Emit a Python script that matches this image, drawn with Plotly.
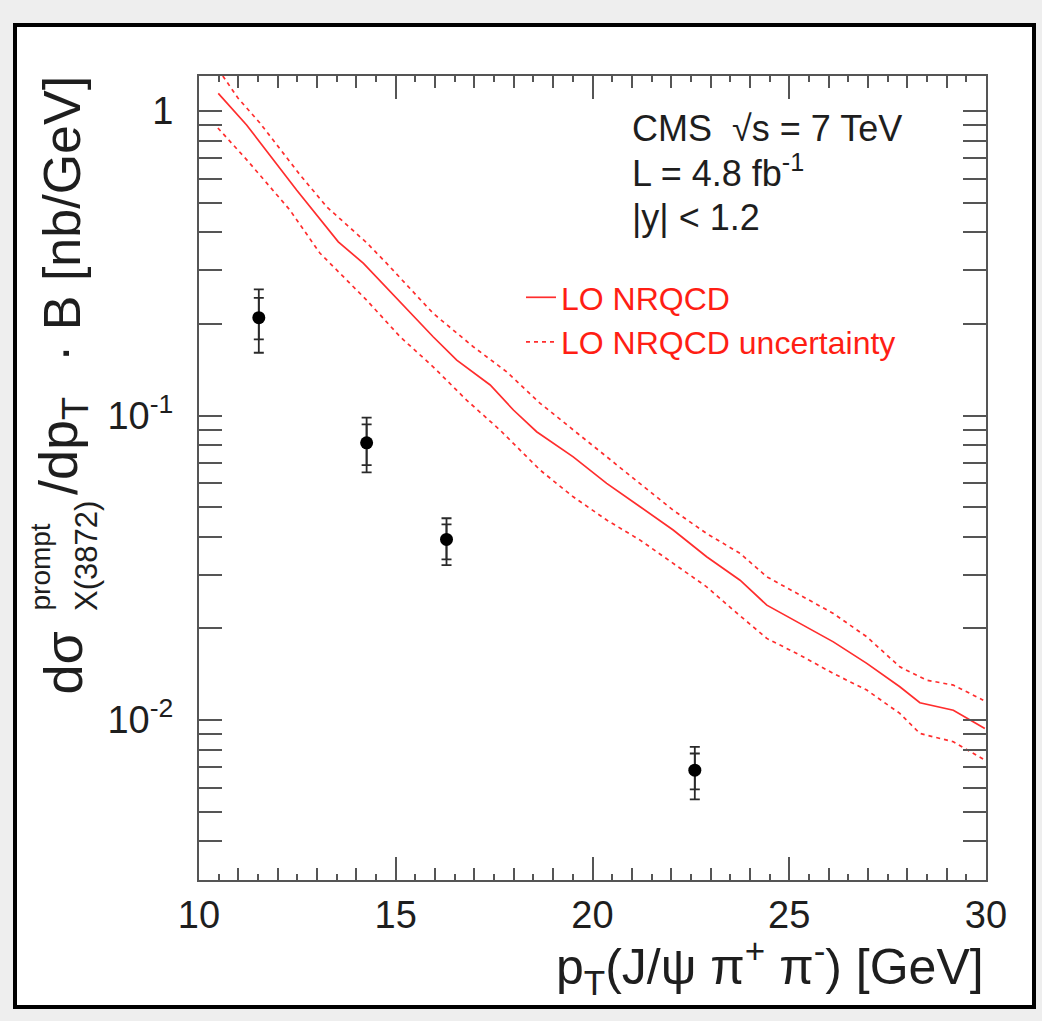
import plotly.graph_objects as go

# ---------------- data ----------------
pt_data = [11.52, 14.26, 16.29, 22.60]
xsec = [0.2096, 0.0814, 0.0392, 0.00685]
stat_hi = [0.2436, 0.0935, 0.0439, 0.00777]
stat_lo = [0.1780, 0.0688, 0.0337, 0.00592]
tot_hi = [0.2597, 0.0984, 0.0460, 0.00817]
tot_lo = [0.1608, 0.0651, 0.0323, 0.00549]

pt_c = [10.49, 11.21, 12.48, 13.54, 14.18, 15.95, 16.55, 17.40, 17.99, 18.58, 19.51,
        20.36, 21.21, 22.05, 22.90, 23.75, 24.43, 25.27, 26.12, 26.97, 27.81, 28.32,
        29.17, 29.97]
nrqcd_c = [1.143, 0.900, 0.550, 0.372, 0.316, 0.1815, 0.152, 0.126, 0.1043, 0.0885, 0.0732,
           0.0599, 0.0502, 0.0421, 0.0344, 0.0288, 0.02385, 0.02077, 0.01807, 0.01536,
           0.01287, 0.0114, 0.01078, 0.00939]

pt_u = [10.49, 10.61, 10.99, 11.55, 12.57, 13.25, 14.27, 14.77, 15.95, 16.97, 17.82, 18.67,
        19.51, 20.36, 21.21, 22.05, 22.90, 23.75, 24.43, 25.27, 26.12, 26.97, 27.81,
        28.49, 29.17, 29.93]
nrqcd_u = [1.37, 1.303, 1.103, 0.913, 0.6165, 0.484, 0.3685, 0.316, 0.2166, 0.1683, 0.1392,
           0.1097, 0.0896, 0.0732, 0.0599, 0.0489, 0.0410, 0.03527, 0.02956, 0.02573,
           0.0224, 0.01877, 0.01496, 0.01353, 0.01303, 0.01163]

pt_l = [10.48, 11.22, 12.31, 13.07, 14.26, 15.11, 15.95, 16.80, 17.65, 18.67, 19.51, 20.36,
        21.21, 22.05, 22.90, 23.58, 24.43, 25.27, 26.12, 26.97, 27.81, 28.32, 29.17, 29.97]
nrqcd_l = [0.8795, 0.690, 0.473, 0.3418, 0.2394, 0.1815, 0.1446, 0.1124, 0.0896, 0.0662,
           0.0541, 0.0454, 0.0390, 0.0327, 0.0274, 0.02297, 0.01855, 0.01635, 0.01423,
           0.01255, 0.01052, 0.00904, 0.00849, 0.00739]

y_major = [0.01, 0.1, 1]
y_major_text = ["10<sup>-2</sup>", "10<sup>-1</sup>", "1"]
y_minor = [m * d for d in (0.001, 0.01, 0.1) for m in range(2, 10) if m * d >= 0.003]
x_major = [10, 15, 20, 25, 30]

# ---------------- figure ----------------
FONT = "Liberation Sans, Arial, Helvetica, sans-serif"
RED = "rgb(255,45,45)"
AX = "#555555"
TXT = "#1e1e1e"

fig = go.Figure()

fig.add_trace(go.Scatter(x=pt_c, y=nrqcd_c, mode="lines", name="LO NRQCD",
                         line=dict(color=RED, width=1.7)))
fig.add_trace(go.Scatter(x=pt_u, y=nrqcd_u, mode="lines", name="LO NRQCD uncertainty",
                         line=dict(color=RED, width=1.7, dash="4px,4px")))
# lower band drawn on the overlaying x axis (same range) so the half-GeV ticks appear
fig.add_trace(go.Scatter(x=pt_l, y=nrqcd_l, mode="lines", showlegend=False, xaxis="x2",
                         line=dict(color=RED, width=1.7, dash="4px,4px")))

# total uncertainty
fig.add_trace(go.Scatter(
    x=pt_data, y=xsec, mode="markers", showlegend=False,
    marker=dict(color="black", size=1),
    error_y=dict(type="data", symmetric=False,
                 array=[h - c for h, c in zip(tot_hi, xsec)],
                 arrayminus=[c - l for c, l in zip(xsec, tot_lo)],
                 color="#2a2a2a", thickness=1.8, width=5)))
# statistical uncertainty + points
fig.add_trace(go.Scatter(
    x=pt_data, y=xsec, mode="markers", showlegend=False,
    marker=dict(color="black", size=13),
    error_y=dict(type="data", symmetric=False,
                 array=[h - c for h, c in zip(stat_hi, xsec)],
                 arrayminus=[c - l for c, l in zip(xsec, stat_lo)],
                 color="#2a2a2a", thickness=1.8, width=5)))

W, H = 1042, 1021
L, R, T, B = 199, 56, 76, 141
pw, ph = W - L - R, H - T - B


def px(x):
    return (x - L) / pw


def py(y):
    return (H - B - y) / ph


def ylab(text, x, y, size, yanchor):
    return dict(text=text, xref="paper", yref="paper", x=px(x), y=py(y), textangle=-90,
                showarrow=False, font=dict(size=size, color=TXT),
                xanchor="center", yanchor=yanchor)


def txt(text, x, y, size):
    return dict(text=text, xref="paper", yref="paper", x=px(x), y=py(y),
                showarrow=False, xanchor="left", yanchor="middle",
                font=dict(size=size, color=TXT))


fig.update_layout(
    width=W, height=H,
    margin=dict(l=L, r=R, t=T, b=B),
    paper_bgcolor="#eeeeee",
    plot_bgcolor="white",
    font=dict(family=FONT, color=TXT),
    showlegend=True,
    legend=dict(x=px(521), y=py(270), xanchor="left", yanchor="top",
                bgcolor="rgba(0,0,0,0)", font=dict(size=32, color="rgb(255,30,20)"),
                itemwidth=30, borderwidth=0, tracegroupgap=0),
    xaxis=dict(range=[10, 30], tickmode="array", tickvals=x_major,
               ticks="inside", ticklen=23, tickwidth=1.5, tickcolor=AX,
               showline=True, linecolor=AX, linewidth=2, mirror="allticks",
               showgrid=False, zeroline=False,
               tickfont=dict(size=38, color=TXT), ticklabelstandoff=0,
               minor=dict(dtick=1, tick0=10, ticks="inside", ticklen=12,
                          tickwidth=1.5, tickcolor=AX, showgrid=False)),
    xaxis2=dict(range=[10, 30], overlaying="x", side="bottom", dtick=0.5, tick0=10,
                ticks="inside", ticklen=6, tickwidth=1.5, tickcolor=AX,
                showticklabels=False, showline=False, mirror="allticks",
                showgrid=False, zeroline=False),
    yaxis=dict(type="log", range=[-2.525, 0.115], tickmode="array",
               tickvals=y_major, ticktext=y_major_text,
               ticks="inside", ticklen=23, tickwidth=1.5, tickcolor=AX,
               showline=True, linecolor=AX, linewidth=2, mirror="allticks",
               showgrid=False, zeroline=False,
               tickfont=dict(size=38, color=TXT), ticklabelstandoff=16,
               minor=dict(tickmode="array", tickvals=y_minor, ticks="inside",
                          ticklen=12, tickwidth=1.5, tickcolor=AX, showgrid=False)),
    shapes=[dict(type="rect", xref="paper", yref="paper", layer="below",
                 x0=px(15), x1=px(1034), y0=py(1007), y1=py(25),
                 fillcolor="white", line=dict(color="black", width=4))],
    annotations=[
        # y-axis title, assembled so that super- and subscript stack
        ylab("dσ", 62, 697, 54, "bottom"),
        ylab("prompt", 40, 613, 28, "bottom"),
        ylab("X(3872)", 86, 613, 31, "bottom"),
        ylab("/dp<sub>T</sub>", 62, 497, 54, "bottom"),
        ylab("· B [nb/GeV]", 62, 74, 52, "top"),
        # x-axis title
        dict(text="p<sub>T</sub>(J/ψ π<sup>+</sup> π<sup>-</sup>) [GeV]",
             xref="paper", yref="paper", x=px(986), y=py(967),
             showarrow=False, font=dict(size=50, color=TXT),
             xanchor="right", yanchor="middle"),
        txt("CMS  √s = 7 TeV", 630, 128, 36),
        txt("L = 4.8 fb<sup>-1</sup>", 630, 171, 36),
        txt("|y| < 1.2", 630, 217, 36),
    ],
)

fig.write_html("out.html")
